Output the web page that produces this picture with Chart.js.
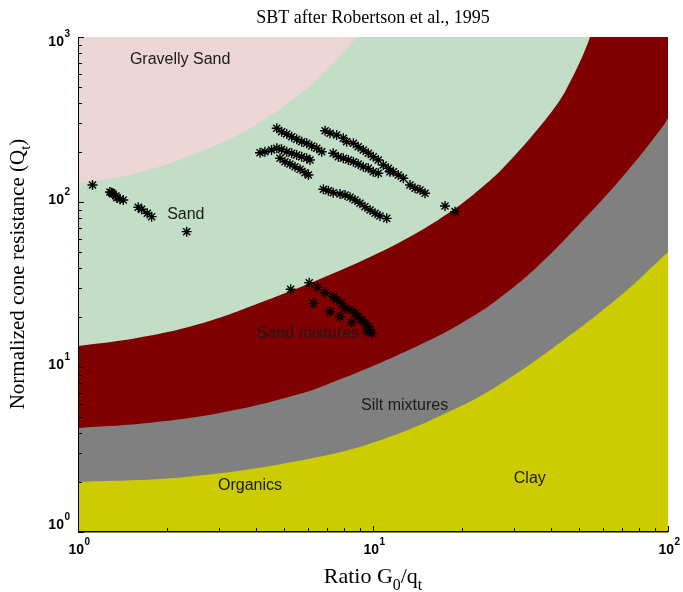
<!DOCTYPE html>
<html>
<head>
<meta charset="utf-8">
<script src="https://cdn.jsdelivr.net/npm/chart.js@4/dist/chart.umd.min.js"></script>
<style>
  html, body { margin: 0; padding: 0; background: #ffffff; }
  #wrap { width: 683px; height: 592px; }
</style>
</head>
<body>
<div id="wrap"><canvas id="sbt" width="683" height="592"></canvas></div>
<script>
// Soil behaviour type chart (G0/qt against normalized cone resistance Q), log-log.

// Zone boundaries: ratio G0/qt and Q along each boundary curve
// (the last points of the upper curves sit above Q = 1000, outside the plot)
const boundGravelX = [1, 1.585, 2.52, 3.92, 5.79, 7.14, 8.81, 10, 10.98, 100];
const boundGravelQ = [128.5, 149.3, 197.2, 285.8, 466.7, 660.7, 995, 1321, 1676, 1676];

const boundSandX = [1, 1.585, 2.654, 4.476, 6.61, 9.77, 13.67, 18.67, 23.05, 27.59, 35.97, 43.04, 46.55, 51.5, 54.4, 56.56, 58.83, 100];
const boundSandQ = [13.41, 14.99, 18.48, 25.8, 34.1, 46.4, 63.1, 89.5, 119.9, 160.8, 273, 415, 533, 778, 1000, 1268, 1676, 1676];

const boundMixX = [1, 1.714, 3.151, 5.79, 7.61, 10.56, 16.87, 21.32, 26.32, 35.97, 53.14, 74.3, 96.2, 100];
const boundMixQ = [4.27, 4.58, 5.34, 6.96, 8.34, 10.58, 15.63, 19.8, 25.47, 40.4, 82.2, 160.8, 288.8, 323];

const boundSiltX = [1, 2.323, 5.79, 10.64, 19.56, 27.37, 43.4, 68.77, 100];
const boundSiltQ = [2.01, 2.155, 2.73, 3.61, 5.72, 8.0, 14.18, 26.9, 49.8];

// CPT / seismic measurements
const cptRatio = [
  1.12, 1.30, 1.283, 1.314, 1.345, 1.355, 1.388, 1.424, 1.60, 1.643, 1.717, 1.777, 2.336,
  4.716, 4.903, 5.099, 5.302, 5.513, 5.733, 5.962, 6.199, 6.446, 6.703,
  4.14, 4.30, 4.53, 4.72, 4.90, 5.10, 5.30, 5.51, 5.73, 5.96, 6.115,
  4.84, 5.03, 5.23, 5.44, 5.66, 5.88, 6.04,
  6.88, 7.15, 7.53, 7.93, 8.14, 8.58, 8.91, 9.27, 9.64, 10.02, 10.42, 10.83, 11.27, 11.72, 12.18, 12.67, 13.35, 13.88, 14.43, 15.01, 17.54, 18.97,
  7.33, 7.63, 7.93, 8.25, 8.58, 8.91, 9.27, 9.64, 10.02, 10.42, 11.42,
  6.79, 7.06, 7.33, 7.73, 8.04, 8.36, 8.69, 9.03, 9.39, 9.77, 10.16, 10.56, 11.13,
  5.26, 6.08, 6.48, 6.88, 6.28, 7.33, 7.53, 7.83, 7.15, 7.73, 8.04, 8.36, 8.47, 8.69, 8.91, 9.16, 9.39, 9.64, 9.77, 9.9, 9.52
];
const cptQ = [
  126.8, 113.8, 115, 111.8, 108.7, 106, 104, 102.8, 92.9, 90.4, 85.4, 81.5, 66.1,
  279.7, 266.8, 258.3, 248.8, 239.9, 232.0, 226.9, 218.5, 211.6, 201.8,
  199, 201.8, 206.7, 211.6, 208.6, 201.8, 197.3, 192.6, 188.2, 184.0, 179.7,
  184, 175.5, 169.9, 163.6, 157.8, 150.6, 145.8,
  270.4, 260.8, 254.7, 243.2, 232, 226.9, 216.3, 206.7, 197.3, 188.2, 179.7, 167.5, 159.9, 152.6, 145.8, 139.2, 126.8, 121.1, 118.3, 113, 94.6, 87.4,
  197.3, 188.2, 184, 179.7, 175.5, 169.9, 163.6, 159.9, 152.6, 149.3, 152.6,
  119.4, 117.1, 113.8, 111.8, 110.2, 106.8, 102.8, 98.2, 93.7, 89.5, 85.4, 82.3, 79.6,
  29.6, 32.4, 30.4, 28.2, 24.3, 26.7, 25.5, 24.3, 21.6, 20.2, 22.7, 22.2, 18.6, 21.2, 20.2, 19.3, 18.4, 17.5, 16.8, 16.0, 16.4
];

// Axis decades
const ratioTickExps = [0, 1, 2];
const qTickExps = [0, 1, 2, 3];

// Zone names and where they are written (data units)
const zoneNames = ['Gravelly Sand', 'Sand', 'Sand mixtures', 'Silt mixtures', 'Organics', 'Clay'];
const zoneLabelX = [2.22, 2.32, 6.02, 12.8, 3.83, 34.0];
const zoneLabelQ = [726, 83.4, 15.85, 5.8, 1.9, 2.12];

const COL_GRAVEL = '#ecd6d6';
const COL_SAND = '#c2dec6';
const COL_SANDMIX = '#800000';
const COL_SILTMIX = '#808080';
const COL_CLAY = '#cccc00';

function pts(xs, ys) { return xs.map((x, i) => ({ x: x, y: ys[i] })); }

function zone(xs, ys, color) {
  return {
    type: 'line',
    data: pts(xs, ys),
    borderColor: 'rgba(0,0,0,0)',
    borderWidth: 1,
    backgroundColor: color,
    fill: 'start',
    pointRadius: 0,
    tension: 0.4,
    capBezierPoints: false
  };
}

const gravelBackground = {
  id: 'gravelBackground',
  beforeDraw(chart) {
    const { ctx, chartArea: a } = chart;
    ctx.save();
    ctx.fillStyle = COL_GRAVEL;
    ctx.fillRect(a.left, a.top, a.right - a.left, a.bottom - a.top);
    ctx.restore();
  }
};

function drawRuns(ctx, runs, cx, baseline, size, family) {
  const sub = size * 0.72;
  let total = 0;
  runs.forEach(r => {
    ctx.font = (r.sub ? sub : size) + 'px ' + family;
    r.w = ctx.measureText(r.t).width;
    total += r.w;
  });
  let x = cx - total / 2;
  ctx.textAlign = 'left';
  ctx.textBaseline = 'alphabetic';
  runs.forEach(r => {
    ctx.font = (r.sub ? sub : size) + 'px ' + family;
    ctx.fillText(r.t, x, baseline + (r.sub ? size * 0.3 : 0));
    x += r.w;
  });
}

const axesAndText = {
  id: 'axesAndText',
  afterDraw(chart) {
    const { ctx, chartArea: a } = chart;
    const xs = chart.scales.x, ys = chart.scales.y;
    ctx.save();

    // axis lines
    ctx.strokeStyle = '#000';
    ctx.lineWidth = 1;
    ctx.beginPath();
    ctx.moveTo(a.left + 0.5, a.top);
    ctx.lineTo(a.left + 0.5, a.bottom);
    ctx.stroke();
    ctx.lineWidth = 1.6;
    ctx.beginPath();
    ctx.moveTo(a.left, a.bottom - 0.3);
    ctx.lineTo(a.right, a.bottom - 0.3);
    ctx.stroke();

    // inward tick marks, majors and minors
    ctx.lineWidth = 1;
    ctx.beginPath();
    for (let e = 0; e < 2; e++) {
      for (let m = 1; m <= 10; m++) {
        const v = m * Math.pow(10, e);
        const px = Math.round(xs.getPixelForValue(v)) + 0.5;
        const len = (m === 1 || m === 10) ? 6 : 4;
        ctx.moveTo(px, a.bottom);
        ctx.lineTo(px, a.bottom - len);
      }
    }
    for (let e = 0; e < 3; e++) {
      for (let m = 1; m <= 10; m++) {
        const v = m * Math.pow(10, e);
        const py = Math.round(ys.getPixelForValue(v)) + 0.5;
        const len = (m === 1 || m === 10) ? 6 : 4;
        ctx.moveTo(a.left, py);
        ctx.lineTo(a.left + len, py);
      }
    }
    ctx.stroke();

    // tick labels as 10^n
    ctx.fillStyle = '#000';
    const base = 'bold 14px "Liberation Sans", Arial, sans-serif';
    const sup = 'bold 10px "Liberation Sans", Arial, sans-serif';
    ratioTickExps.forEach(e => {
      const px = xs.getPixelForValue(Math.pow(10, e));
      ctx.font = base;
      const w10 = ctx.measureText('10').width;
      ctx.font = sup;
      const we = ctx.measureText(String(e)).width;
      const x0 = px - (w10 + we) / 2 + 1;
      ctx.textAlign = 'left';
      ctx.textBaseline = 'alphabetic';
      ctx.font = base;
      ctx.fillText('10', x0, a.bottom + 22);
      ctx.font = sup;
      ctx.fillText(String(e), x0 + w10 + 0.5, a.bottom + 13);
    });
    qTickExps.forEach(e => {
      const py = ys.getPixelForValue(Math.pow(10, e));
      ctx.font = sup;
      const we = ctx.measureText(String(e)).width;
      const right = a.left - 8;
      ctx.textAlign = 'right';
      ctx.textBaseline = 'alphabetic';
      ctx.font = base;
      const yb = e === 3 ? py + 9 : (e === 0 ? py - 3 : py + 2);
      ctx.fillText('10', right - we - 0.5, yb);
      ctx.font = sup;
      ctx.fillText(String(e), right, yb - 9);
    });

    // zone names
    ctx.fillStyle = '#1a1a1a';
    ctx.font = '16px "Liberation Sans", Arial, sans-serif';
    ctx.textAlign = 'center';
    ctx.textBaseline = 'middle';
    zoneNames.forEach((name, i) => {
      ctx.fillText(name, xs.getPixelForValue(zoneLabelX[i]), ys.getPixelForValue(zoneLabelQ[i]));
    });

    // title
    ctx.fillStyle = '#000';
    ctx.font = '18px "Liberation Serif", "Times New Roman", serif';
    ctx.textAlign = 'center';
    ctx.textBaseline = 'alphabetic';
    ctx.fillText('SBT after Robertson et al., 1995', (a.left + a.right) / 2, 23);

    // x axis title
    drawRuns(ctx, [
      { t: 'Ratio G' }, { t: '0', sub: true }, { t: '/q' }, { t: 't', sub: true }
    ], (a.left + a.right) / 2, 583, 22, '"Liberation Serif", "Times New Roman", serif');

    // y axis title
    ctx.save();
    ctx.translate(24, 274);
    ctx.rotate(-Math.PI / 2);
    drawRuns(ctx, [
      { t: 'Normalized cone resistance (Q' }, { t: 't', sub: true }, { t: ')' }
    ], 0, 0, 21, '"Liberation Serif", "Times New Roman", serif');
    ctx.restore();

    ctx.restore();
  }
};

new Chart(document.getElementById('sbt'), {
  type: 'scatter',
  data: {
    datasets: [
      {
        type: 'scatter',
        label: 'CPT data',
        data: pts(cptRatio, cptQ),
        pointStyle: 'star',
        pointRadius: 5,
        borderColor: '#000',
        backgroundColor: '#000',
        borderWidth: 1.4,
        showLine: false
      },
      zone(boundSiltX, boundSiltQ, COL_CLAY),
      zone(boundMixX, boundMixQ, COL_SILTMIX),
      zone(boundSandX, boundSandQ, COL_SANDMIX),
      zone(boundGravelX, boundGravelQ, COL_SAND)
    ]
  },
  options: {
    responsive: false,
    animation: false,
    events: [],
    layout: { padding: { top: 37, right: 15, left: 0, bottom: 0 } },
    plugins: { legend: { display: false }, tooltip: { enabled: false }, title: { display: false } },
    scales: {
      x: {
        type: 'logarithmic', min: 1, max: 100,
        grid: { display: false }, border: { display: false },
        ticks: { display: false },
        afterFit(s) { s.height = 60; }
      },
      y: {
        type: 'logarithmic', min: 1, max: 1000,
        grid: { display: false }, border: { display: false },
        ticks: { display: false },
        afterFit(s) { s.width = 78; }
      }
    }
  },
  plugins: [gravelBackground, axesAndText]
});
</script>
</body>
</html>
